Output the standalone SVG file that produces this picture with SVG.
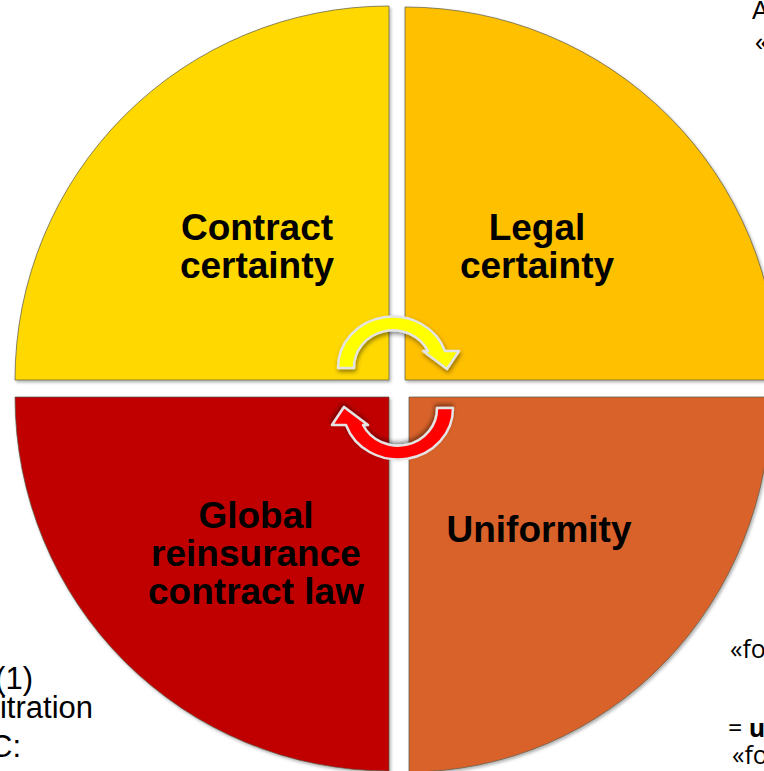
<svg xmlns="http://www.w3.org/2000/svg" width="764" height="771" viewBox="0 0 764 771">
<style>
.q{stroke:#5a5a48;stroke-opacity:.7;stroke-width:1;filter:url(#sh)}
.lbl{font-family:"Liberation Sans",Arial,sans-serif;font-weight:bold;font-size:37px;fill:#000;text-anchor:middle}
.frag{font-family:"Liberation Sans",Arial,sans-serif;font-size:31px;fill:#000}
.frag2{font-family:"Open Sans","Liberation Sans",sans-serif;font-size:25px;fill:#000}
.frag3{font-family:"Liberation Sans",Arial,sans-serif;font-size:25px;fill:#000}
.arr{stroke:#e4e4e4;stroke-width:2.5;stroke-linejoin:round;filter:url(#sh2)}
</style>
<defs>
<filter id="sh" x="-5%" y="-5%" width="110%" height="110%">
<feDropShadow dx="1.5" dy="2" stdDeviation="1.5" flood-color="#000" flood-opacity="0.3"/>
</filter>
<filter id="sh2" x="-20%" y="-20%" width="140%" height="140%">
<feDropShadow dx="1" dy="2.5" stdDeviation="2" flood-color="#000" flood-opacity="0.45"/>
</filter>
<path id="arrowShape" d="M338,368 A55,51 0 0 1 445,351 L459,351 L447,369 L423,351 L428,351 A39,37 0 0 0 354,368 Z"/>
</defs>
<rect width="764" height="771" fill="#fff"/>

<g id="contract-certainty">
<path class="q" fill="#FFD800" d="M389,380 L15,380 A374,374 0 0 1 389,6 Z"/>
<text class="lbl" x="257" y="240">Contract</text>
<text class="lbl" x="257" y="278">certainty</text>
</g>

<g id="legal-certainty">
<path class="q" fill="#FFC000" d="M405,380 L405,7 A373,373 0 0 1 778,380 Z"/>
<text class="lbl" x="537" y="240">Legal</text>
<text class="lbl" x="537" y="278">certainty</text>
</g>

<g id="global-law">
<path class="q" fill="#C00000" d="M389,397 L389,771 A374,374 0 0 1 15,397 Z"/>
<text class="lbl" x="256" y="528">Global</text>
<text class="lbl" x="256" y="566">reinsurance</text>
<text class="lbl" x="256" y="604">contract law</text>
</g>

<g id="uniformity">
<path class="q" fill="#D9622B" d="M409,397 L771,397 A362,375 0 0 1 409,772 Z"/>
<text class="lbl" x="539" y="542">Uniformity</text>
</g>

<g id="connectors">
<use href="#arrowShape" class="arr" fill="#FFFF00"/>
<use href="#arrowShape" class="arr" fill="#FF0000" transform="rotate(180 395.5 388)"/>
</g>

<g id="fragments">
<text class="frag" x="33" y="689" text-anchor="end">(1)</text>
<text class="frag" x="93" y="718" text-anchor="end">itration</text>
<text class="frag" x="21" y="757" text-anchor="end">C:</text>
<text class="frag3" x="752" y="19">A</text>
<text class="frag3" x="755" y="51">«</text>
<text class="frag2" x="730" y="658">«fo</text>
<text class="frag2" x="728" y="737">= <tspan font-weight="bold">u</tspan></text>
<text class="frag2" x="732" y="764">«fo</text>
</g>
</svg>
